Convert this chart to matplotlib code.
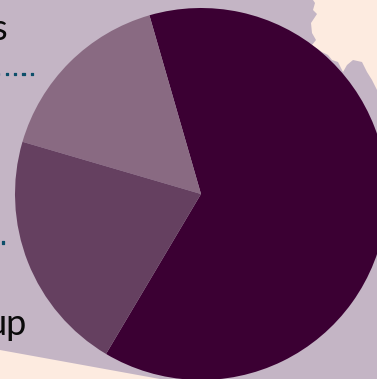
import matplotlib
matplotlib.use('Agg')
import matplotlib.pyplot as plt
import matplotlib.patheffects as pe

W, H = 377, 379

# pie slices, percent
shares = [63, 16, 21]
slice_colors = ['#3b0033', '#896a82', '#654060']

# coastline of the light land areas, in pixels from the top left
land_x = [313, 315, 313, 317, 311, 312, 316, 312, 322, 328, 332, 338, 343, 347, 353, 362, 367, 372, 377, 377, 313]
land_y = [0, 3, 10, 14, 23, 33, 40, 45, 52, 55, 60, 62, 72, 65, 60, 62, 72, 80, 90, 0, 0]
shore_x = [0, 160, 0]
shore_y = [350, 379, 379]

fig = plt.figure(figsize=(W / 100, H / 100), dpi=100, facecolor='#c4b5c5')
ax = fig.add_axes([0, 0, 1, 1])
ax.set_xlim(0, W)
ax.set_ylim(0, H)
ax.axis('off')

ax.fill(land_x, [H - y for y in land_y], color='#fdebe0', lw=0)
ax.fill(shore_x, [H - y for y in shore_y], color='#fdebe0', lw=0)

ax.pie(shares, colors=slice_colors, startangle=239.3, counterclock=True,
       center=(201, H - 194), radius=186, frame=True,
       wedgeprops={'linewidth': 0})
ax.set_xlim(0, W)
ax.set_ylim(0, H)
ax.set_aspect('auto')
ax.axis('off')

font = 'Lato'
ax.text(7, H - 40, 's', ha='right', va='baseline', fontsize=26, color='#0a0a0a', family=font)
ax.text(27, H - 335, 'up', ha='right', va='baseline', fontsize=26, color='#0a0a0a', family=font)

# dotted leaders, thickened a little so the dots read at this size
thick = [pe.withStroke(linewidth=0.9, foreground='#0d4f6a')]
ax.text(34, H - 75, '. . . . .', ha='right', va='baseline', fontsize=8.3, color='#0d4f6a',
        family='DejaVu Sans', weight='bold', path_effects=thick)
ax.text(5, H - 243.5, '.', ha='right', va='baseline', fontsize=8.3, color='#0d4f6a',
        family='DejaVu Sans', weight='bold', path_effects=thick)

fig.savefig('out.png', dpi=100, facecolor=fig.get_facecolor())
